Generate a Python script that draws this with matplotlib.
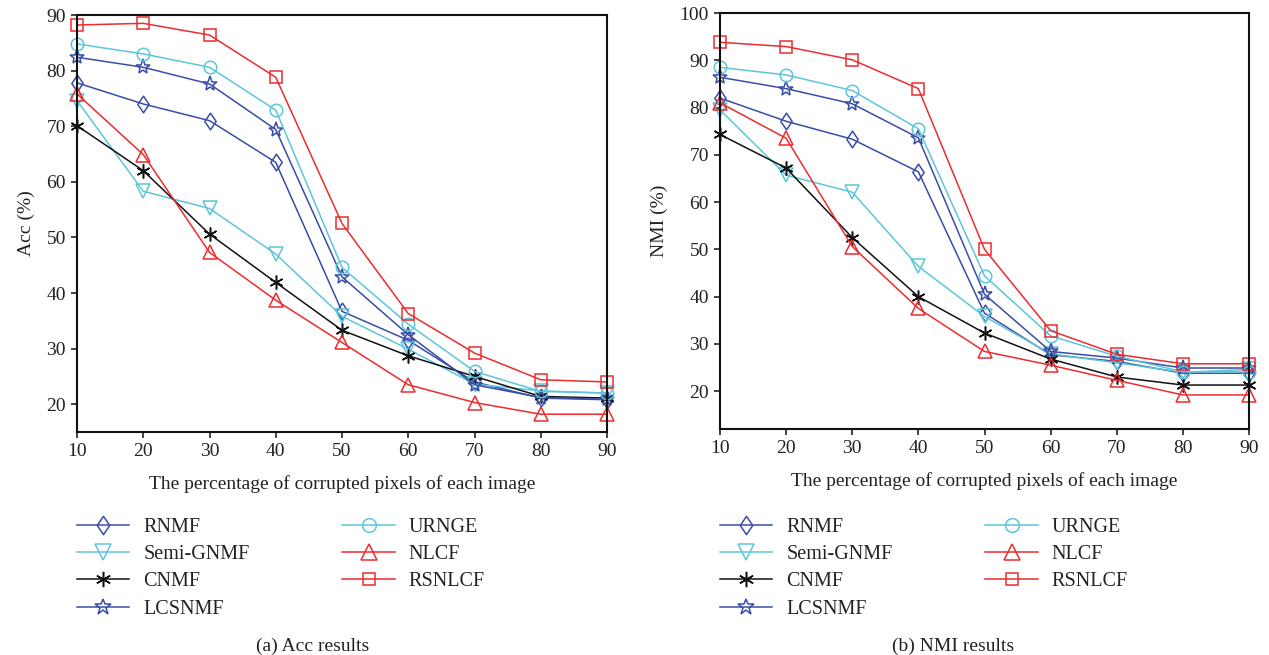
import matplotlib
matplotlib.use("Agg")
import matplotlib.pyplot as plt
from matplotlib.path import Path

plt.rcParams['font.family'] = ['Liberation Serif', 'DejaVu Serif']
plt.rcParams['mathtext.fontset'] = 'stix'

x = [10, 20, 30, 40, 50, 60, 70, 80, 90]
methods = ["RNMF", "Semi-GNMF", "CNMF", "LCSNMF", "URNGE", "NLCF", "RSNLCF"]

acc_rnmf = [77.8, 74.0, 71.0, 63.5, 36.7, 31.5, 24.0, 21.1, 20.8]
acc_semi = [74.6, 58.3, 55.2, 47.0, 35.8, 29.9, 23.6, 22.4, 22.0]
acc_cnmf = [70.1, 62.0, 50.6, 41.9, 33.3, 28.7, 25.0, 21.4, 21.1]
acc_lcsnmf = [82.4, 80.6, 77.6, 69.4, 42.9, 32.5, 23.5, 21.2, 20.9]
acc_urnge = [84.8, 83.0, 80.6, 72.9, 44.6, 34.4, 25.9, 22.3, 22.0]
acc_nlcf = [75.8, 64.9, 47.3, 38.7, 31.1, 23.5, 20.3, 18.2, 18.2]
acc_rsnlcf = [88.2, 88.5, 86.4, 78.8, 52.5, 36.3, 29.2, 24.4, 24.0]

nmi_rnmf = [82.0, 77.1, 73.3, 66.4, 36.5, 27.7, 26.3, 23.8, 23.8]
nmi_semi = [79.5, 65.7, 62.1, 46.4, 35.8, 27.9, 26.0, 24.0, 24.6]
nmi_cnmf = [74.3, 67.2, 52.5, 40.0, 32.3, 26.8, 23.0, 21.3, 21.3]
nmi_lcsnmf = [86.4, 84.0, 80.8, 73.6, 40.5, 28.4, 27.0, 24.9, 24.9]
nmi_urnge = [88.5, 86.9, 83.6, 75.5, 44.4, 31.7, 27.4, 24.1, 24.1]
nmi_nlcf = [81.0, 73.5, 50.6, 37.5, 28.4, 25.5, 22.3, 19.2, 19.2]
nmi_rsnlcf = [93.8, 92.9, 90.1, 84.0, 50.0, 32.8, 27.8, 25.8, 25.8]

acc_ticks = [20, 30, 40, 50, 60, 70, 80, 90]
nmi_ticks = [20, 30, 40, 50, 60, 70, 80, 90, 100]

BLUE = '#3A4DA6'
CYAN = '#5DC6DA'
RED = '#EE2B2E'
BLACK = '#111111'
TXT = '#222222'

diamond = Path([(0, 1), (0.68, 0), (0, -1), (-0.68, 0), (0, 1)],
               [Path.MOVETO, Path.LINETO, Path.LINETO, Path.LINETO, Path.CLOSEPOLY])

styles = [
    dict(color=BLUE, marker=diamond, ms=12),
    dict(color=CYAN, marker='v', ms=10.5),
    dict(color=BLACK, marker=(6, 2, 0), ms=10),
    dict(color=BLUE, marker='*', ms=11),
    dict(color=CYAN, marker='o', ms=9),
    dict(color=RED, marker='^', ms=10.5),
    dict(color=RED, marker='s', ms=8),
]

W, H = 1269, 655
fig = plt.figure(figsize=(W / 100, H / 100), dpi=100)

def ax_rect(x0, x1, ytop, ybot):
    return [x0 / W, 1 - ybot / H, (x1 - x0) / W, (ybot - ytop) / H]

ax1 = fig.add_axes(ax_rect(77, 607, 15, 432))
ax2 = fig.add_axes(ax_rect(720, 1249, 13, 429))

def draw(ax, series, ylim, yticks, ylabel, caption, legx, capx):
    handles = []
    for name, vals, st in zip(methods, series, styles):
        ln, = ax.plot(x, vals, color=st['color'], lw=1.1, marker=st['marker'],
                      ms=st['ms'], mfc='none', mec=st['color'], mew=1.1,
                      clip_on=False, label=name)
        handles.append(ln)
    ax.set_xlim(10, 90)
    ax.set_ylim(*ylim)
    ax.set_xticks(x)
    ax.set_yticks(yticks)
    for s in ax.spines.values():
        s.set_linewidth(1.5)
        s.set_color('#111111')
    ax.tick_params(direction='out', length=4, width=1.1, labelsize=14,
                   colors='#111111', labelcolor=TXT, pad=4)
    ax.set_xlabel('The percentage of corrupted pixels of each image',
                  fontsize=14, color=TXT, labelpad=11)
    ax.set_ylabel(ylabel, fontsize=14, color=TXT, labelpad=8)
    fig.legend(handles=handles, loc='upper left',
               bbox_to_anchor=(legx / W, 1 - 518 / H), ncol=2, frameon=False,
               fontsize=14.5, handlelength=2.6, handletextpad=0.7,
               columnspacing=4.6, labelspacing=0.4, borderaxespad=0,
               borderpad=0, labelcolor=TXT, markerscale=1.1)
    fig.text(capx / W, 1 - 646 / H, caption, ha='center', va='center',
             fontsize=14, color=TXT)

draw(ax1, [acc_rnmf, acc_semi, acc_cnmf, acc_lcsnmf, acc_urnge, acc_nlcf, acc_rsnlcf],
     (15, 90), acc_ticks, 'Acc (%)', '(a) Acc results', 77, 313)
draw(ax2, [nmi_rnmf, nmi_semi, nmi_cnmf, nmi_lcsnmf, nmi_urnge, nmi_nlcf, nmi_rsnlcf],
     (12, 100), nmi_ticks, 'NMI (%)', '(b) NMI results', 720, 953)

fig.savefig('out.png', dpi=100)
